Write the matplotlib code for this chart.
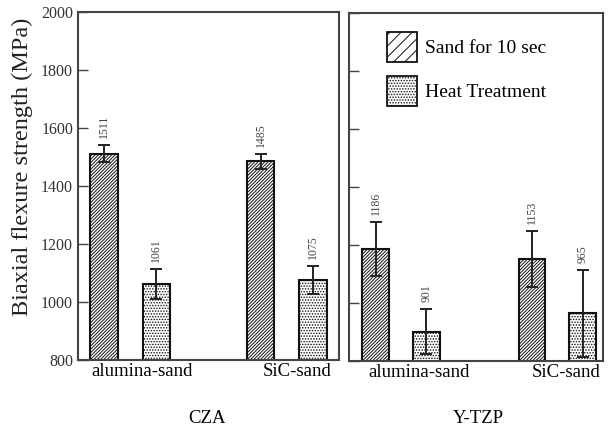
import numpy as np
import matplotlib.pyplot as plt
from matplotlib.patches import Patch

plt.rcParams['font.family'] = 'Liberation Serif'
plt.rcParams['hatch.linewidth'] = 0.7

groups = ["alumina-sand", "SiC-sand"]
materials = ["CZA", "Y-TZP"]
series = ["Sand for 10 sec", "Heat Treatment"]

# mean strength and error per material: [alumina-sand, SiC-sand]
cza_sand = [1511, 1485]
cza_sand_err = [29, 25]
cza_heat = [1061, 1075]
cza_heat_err = [52, 49]

ytzp_sand = [1186, 1153]
ytzp_sand_err = [94, 97]
ytzp_heat = [901, 965]
ytzp_heat_err = [78, 150]

yticks = [800, 1000, 1200, 1400, 1600, 1800, 2000]

fig = plt.figure(figsize=(6.13, 4.28), dpi=100)
ax1 = fig.add_axes([0.1272, 0.1589, 0.4258, 0.8131])
ax2 = fig.add_axes([0.5693, 0.1565, 0.4144, 0.8131])

hatches = ['//////////', '......']
panels = [
    (ax1, [cza_sand, cza_heat], [cza_sand_err, cza_heat_err], [0.2, 0.8], [0.245, 0.839]),
    (ax2, [ytzp_sand, ytzp_heat], [ytzp_sand_err, ytzp_heat_err], [0.205, 0.82], [0.276, 0.854]),
]

for ax, vals, errs, centers, labpos in panels:
    centers = np.array(centers)
    for k, (v, e) in enumerate(zip(vals, errs)):
        xs = centers + (k - 0.5) * 0.2
        ax.bar(xs, v, width=0.105, bottom=0, color='white', edgecolor='#111111',
               linewidth=1.5, hatch=hatches[k], zorder=2)
        ax.errorbar(xs, v, yerr=e, fmt='none', ecolor='#222222', elinewidth=1.4,
                    capsize=4.5, capthick=1.4, zorder=3)
        for x, vv, ee in zip(xs, v, e):
            ax.annotate(f"{vv}", (x, vv + ee), xytext=(0, 5), textcoords='offset points',
                        rotation=90, ha='center', va='bottom', fontsize=8.5, color='#444444')
    ax.set_xlim(0, 1)
    ax.set_ylim(800, 2000)
    ax.set_yticks(yticks)
    ax.set_xticks(labpos)
    ax.set_xticklabels(groups, fontsize=13.5)
    ax.tick_params(axis='x', length=0, pad=2)
    ax.tick_params(axis='y', direction='in', length=7, width=1, color='#444444',
                   labelsize=11.5, labelcolor='#333333')
    for s in ax.spines.values():
        s.set_linewidth(1.5)
        s.set_color('#444444')

ax2.tick_params(axis='y', labelleft=False)

handles = [Patch(facecolor='white', edgecolor='#111111', linewidth=1.3, hatch='///'),
           Patch(facecolor='white', edgecolor='#111111', linewidth=1.3, hatch='......')]
ax2.legend(handles, series, loc='upper left', bbox_to_anchor=(0.15, 0.945), frameon=False,
           fontsize=14, borderpad=0, borderaxespad=0, handlelength=1.55, handleheight=2.0,
           handletextpad=0.4, labelspacing=0.7)

fig.text(0.036, 0.611, "Biaxial flexure strength (MPa)", rotation=90, ha='center', va='center',
         fontsize=17.5, color='#222222')
fig.text(0.338, 0.023, materials[0], ha='center', va='center', fontsize=13.5)
fig.text(0.78, 0.023, materials[1], ha='center', va='center', fontsize=13.5)

fig.savefig("out.png", dpi=100)
